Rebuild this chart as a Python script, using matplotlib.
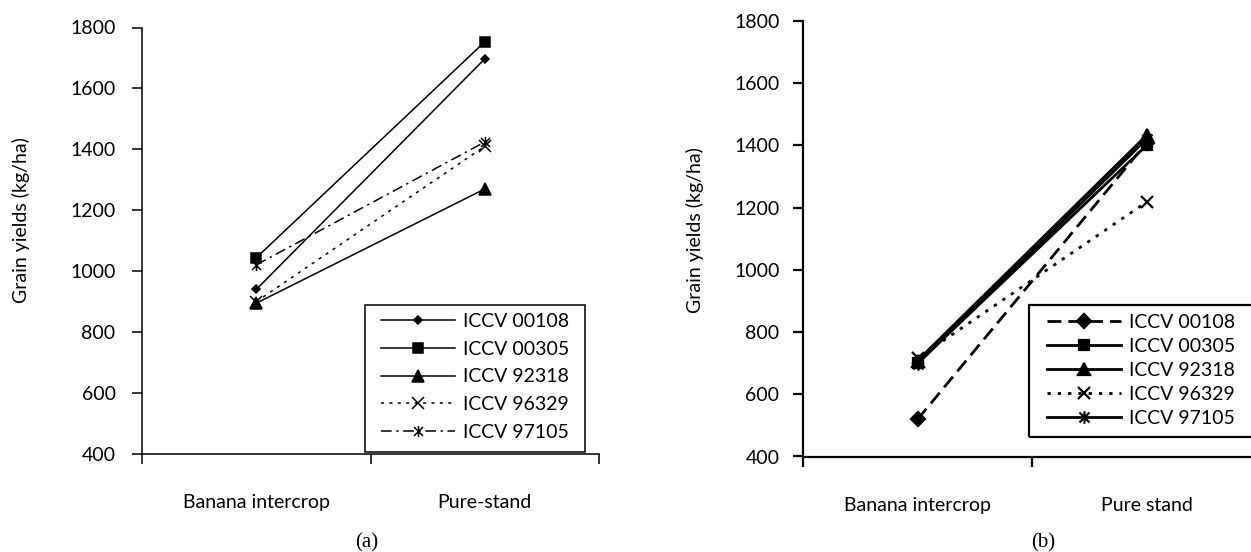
import matplotlib
matplotlib.use("Agg")
import matplotlib.pyplot as plt
from matplotlib.path import Path
from matplotlib.patches import Rectangle

# Data
varieties = ["ICCV 00108", "ICCV 00305", "ICCV 92318", "ICCV 96329", "ICCV 97105"]
categories_a = ["Banana intercrop", "Pure-stand"]
categories_b = ["Banana intercrop", "Pure stand"]

# (a) grain yields kg/ha
intercrop_a = [940, 1044, 895, 900, 1021]
pure_a = [1697, 1753, 1270, 1410, 1424]

# (b) grain yields kg/ha
intercrop_b = [519, 700, 708, 716, 698]
pure_b = [1408, 1400, 1432, 1218, 1420]

y_ticks = [400, 600, 800, 1000, 1200, 1400, 1600, 1800]

plt.rcParams["font.family"] = ["Lato", "DejaVu Sans"]
FS = 14

W, H = 1251, 552

# asterisk marker like excel: X plus vertical bar
star = Path([(-1, -1), (1, 1), (-1, 1), (1, -1), (0, -1.25), (0, 1.25)],
            [Path.MOVETO, Path.LINETO, Path.MOVETO, Path.LINETO, Path.MOVETO, Path.LINETO])

styles_a = [
    dict(marker="D", ms=4.5, ls="-"),
    dict(marker="s", ms=7.5, ls="-"),
    dict(marker="^", ms=8.5, ls="-"),
    dict(marker="x", ms=8, ls=(0, (2, 3.5))),
    dict(marker=star, ms=8, ls=(0, (7, 3, 1.5, 3))),
]
styles_b = [
    dict(marker="D", ms=7, ls=(0, (5, 2.5))),
    dict(marker="s", ms=7.5, ls="-"),
    dict(marker="^", ms=8, ls="-"),
    dict(marker="x", ms=9, ls=(0, (1.2, 2.5))),
    dict(marker=star, ms=9, ls="-"),
]


def fx(px):
    return px / W


def fy(py):
    return 1 - py / H


def setup_axis(ax, cats, lw, ypad):
    ax.set_xlim(0, 2)
    ax.set_ylim(400, 1800)
    ax.set_yticks(y_ticks)
    ax.set_yticklabels([str(t) for t in y_ticks], fontsize=FS)
    ax.set_xticks([0, 1, 2])
    ax.set_xticklabels([])
    ax.set_xticks([0.5, 1.5], minor=True)
    ax.set_xticklabels(cats, minor=True, fontsize=FS)
    ax.tick_params(axis="x", which="major", direction="out", length=7, width=lw)
    ax.tick_params(axis="x", which="minor", length=0, pad=29)
    ax.tick_params(axis="y", direction="out", length=7, width=lw, pad=ypad)
    for s in ["top", "right"]:
        ax.spines[s].set_visible(False)
    for s in ["left", "bottom"]:
        ax.spines[s].set_linewidth(lw)


def add_legend(ax, x_handle, y_top, lspacing, box, lw):
    leg = ax.legend(loc="upper left", bbox_to_anchor=(fx(x_handle), fy(y_top)),
                    bbox_transform=fig.transFigure, fontsize=FS, frameon=False,
                    borderpad=0, handlelength=3.8, handletextpad=0.4,
                    labelspacing=lspacing, borderaxespad=0, numpoints=1)
    x0, y0, x1, y1 = box
    fig.patches.append(Rectangle((fx(x0), fy(y1)), fx(x1) - fx(x0), fy(y0) - fy(y1),
                                 transform=fig.transFigure, fill=False,
                                 edgecolor="black", lw=lw, zorder=5))
    return leg


fig = plt.figure(figsize=(W / 100, H / 100), dpi=100)
x = [0.5, 1.5]

# panel (a)
ax1 = fig.add_axes([fx(142), fy(454), 457 / W, 426.5 / H])
for i, name in enumerate(varieties):
    st = styles_a[i]
    ax1.plot(x, [intercrop_a[i], pure_a[i]], color="black", lw=1.1, ls=st["ls"],
             marker=st["marker"], ms=st["ms"], mfc="black", mec="black", mew=1.1,
             label=name, clip_on=False)
setup_axis(ax1, categories_a, 1.1, 12)
add_legend(ax1, 381, 313, 0.55, (365, 305, 585, 452), 1.1)

# panel (b)
ax2 = fig.add_axes([fx(803), fy(456.5), 458 / W, 435.5 / H])
for i, name in enumerate(varieties):
    st = styles_b[i]
    ax2.plot(x, [intercrop_b[i], pure_b[i]], color="black", lw=2, ls=st["ls"],
             marker=st["marker"], ms=st["ms"], mfc="black", mec="black", mew=1.6,
             label=name, clip_on=False)
setup_axis(ax2, categories_b, 1.6, 10)
add_legend(ax2, 1047, 314, 0.36, (1029, 305, 1262, 437), 1.6)

# axis titles and panel letters
fig.text(fx(21), fy(220), "Grain yields (kg/ha)", rotation=90,
         ha="center", va="center", fontsize=FS)
fig.text(fx(695), fy(230), "Grain yields (kg/ha)", rotation=90,
         ha="center", va="center", fontsize=FS)
fig.text(fx(367), fy(543), "(a)", ha="center", va="center",
         fontsize=15, family="Liberation Serif")
fig.text(fx(1043), fy(543), "(b)", ha="center", va="center",
         fontsize=15, family="Liberation Serif")

fig.savefig("out.png", dpi=100)
